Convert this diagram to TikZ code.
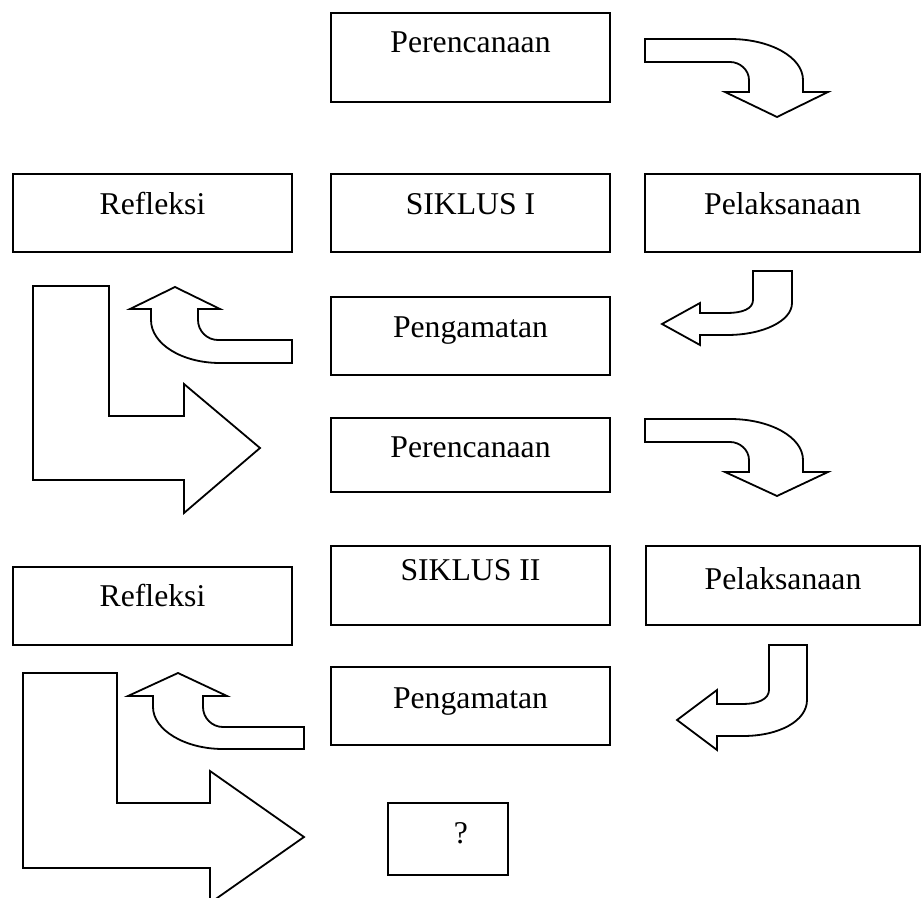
\documentclass[tikz,border=0pt]{standalone}
\usepackage{fontspec}
\setmainfont{Liberation Serif}
\pgfdeclarelayer{edgelayer}
\pgfdeclarelayer{nodelayer}
\pgfsetlayers{edgelayer,nodelayer,main}
\tikzstyle{stage}=[draw=black,line width=1pt,rectangle,inner sep=0pt,outer sep=0pt,anchor=north west,text height=20pt,minimum width=139.5pt,font=\fontsize{15.85pt}{19pt}\selectfont]
\tikzstyle{block_arrow}=[draw=black,line width=0.9pt,fill=white,line join=miter]

\begin{document}
\begin{tikzpicture}[x=0.5pt,y=-0.5pt]
	\useasboundingbox (0,0) rectangle (921,898);
	\begin{pgfonlayer}{nodelayer}
		\node [style=stage,text depth=24.5pt] (0) at (331, 13) {Perencanaan};
		\node [style=stage,text height=20.5pt,text depth=18.5pt] (1) at (13, 174) {Refleksi};
		\node [style=stage,text height=20.5pt,text depth=18.5pt] (2) at (331, 174) {SIKLUS I};
		\node [style=stage,text height=20.5pt,text depth=18.5pt,minimum width=137.5pt] (3) at (645, 174) {Pelaksanaan};
		\node [style=stage,text height=20.5pt,text depth=18.5pt] (4) at (331, 297) {Pengamatan};
		\node [style=stage,text depth=17pt] (5) at (331, 418) {Perencanaan};
		\node [style=stage,text height=17pt,text depth=22.5pt] (6) at (331, 546) {SIKLUS II};
		\node [style=stage,text height=21.5pt,text depth=18pt,minimum width=137pt] (7) at (646, 546) {Pelaksanaan};
		\node [style=stage,text height=19.5pt,text depth=19.5pt] (8) at (13, 567) {Refleksi};
		\node [style=stage,text height=20.5pt,text depth=18.5pt] (9) at (331, 667) {Pengamatan};
		\node [style=stage,text depth=16pt,minimum width=60pt] (10) at (388, 803) {\hspace*{13pt}?};
	\end{pgfonlayer}
	\begin{pgfonlayer}{edgelayer}
		% siklus I
		\draw [style=block_arrow] (645,39) -- (730,39) .. controls (770,39) and (803,57) .. (803,80) -- (803,92) -- (828,92) -- (777,117) -- (725,92) -- (749,92) -- (749,80) .. controls (749,70) and (740,62) .. (730,62) -- (645,62) -- cycle;
		\draw [style=block_arrow] (753,271) -- (792,271) -- (792,303) .. controls (792,321) and (763,335) .. (727,335) -- (700,335) -- (700,345) -- (662,324) -- (700,303) -- (700,313) -- (727,313) .. controls (742,313) and (753,309) .. (753,300) -- cycle;
		\draw [style=block_arrow] (292,340) -- (218,340) .. controls (207,340) and (198,331) .. (198,320) -- (198,309) -- (220,309) -- (175,287) -- (130,309) -- (151,309) -- (151,320) .. controls (151,344) and (182,363) .. (220,363) -- (292,363) -- cycle;
		\draw [style=block_arrow] (33,286) -- (109,286) -- (109,416) -- (184,416) -- (184,384) -- (260,448) -- (184,513) -- (184,480) -- (33,480) -- cycle;
		% siklus II
		\draw [style=block_arrow] (645,419) -- (730,419) .. controls (770,419) and (803,437) .. (803,460) -- (803,472) -- (828,472) -- (777,496) -- (725,472) -- (749,472) -- (749,460) .. controls (749,450) and (740,442) .. (730,442) -- (645,442) -- cycle;
		\draw [style=block_arrow] (769,645) -- (807,645) -- (807,700) .. controls (807,721) and (779,736) .. (743,736) -- (717,736) -- (717,750) -- (677,720) -- (717,690) -- (717,704) -- (743,704) .. controls (758,704) and (769,699) .. (769,690) -- cycle;
		\draw [style=block_arrow] (304,727) -- (223,727) .. controls (212,727) and (203,718) .. (203,707) -- (203,696) -- (227,696) -- (178,673) -- (128,696) -- (153,696) -- (153,707) .. controls (153,730) and (185,749) .. (223,749) -- (304,749) -- cycle;
		\draw [style=block_arrow] (23,673) -- (117,673) -- (117,803) -- (210,803) -- (210,771) -- (304,837) -- (210,903) -- (210,868) -- (23,868) -- cycle;
	\end{pgfonlayer}
\end{tikzpicture}
\end{document}
